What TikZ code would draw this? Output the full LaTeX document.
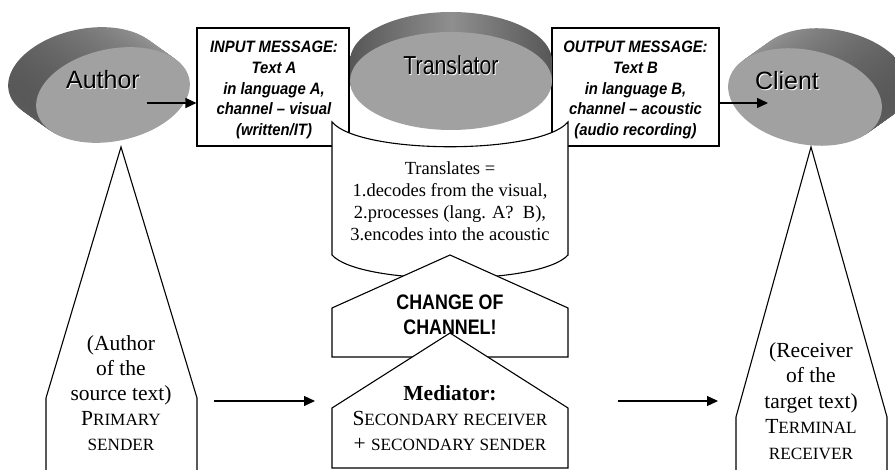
\documentclass[tikz,border=0pt]{standalone}
\usepackage{fontspec}
\setmainfont{Liberation Serif}
\setsansfont{Liberation Sans}
\newfontfamily\narrowsans[FakeStretch=0.82]{Liberation Sans}
\newfontfamily\semisans[FakeStretch=0.9]{Liberation Sans}
\newfontfamily\condsans[FakeStretch=0.85]{Liberation Sans}
\usetikzlibrary{arrows.meta}
\definecolor{sidedark}{gray}{0.34}
\definecolor{sidelight}{gray}{0.62}
\definecolor{facegray}{gray}{0.63}
\definecolor{rimgray}{gray}{0.56}
\newcommand{\mysc}[2]{{\fontsize{#1}{#1}\selectfont #2}}
\begin{document}
\begin{tikzpicture}[x=1pt,y=-1pt,
  box/.style={draw, line width=1.1pt, fill=white, inner sep=0pt},
  shp/.style={draw, line width=1.1pt, fill=white, line join=miter},
  arr/.style={-{Triangle[length=11pt,width=10pt]}, line width=1.4pt},
  boxtxt/.style={font=\semisans\bfseries\itshape\fontsize{16.5}{20.7}\selectfont, align=center, inner sep=0pt},
  disctxt/.style={font=\sffamily\fontsize{25}{25}\selectfont},
  sertxt/.style={align=center, inner sep=0pt},
  ]
\useasboundingbox (0,0) rectangle (895,470);
\clip (0,0) rectangle (895,470);

% ---------- boxes ----------
\node[box, minimum width=152pt, minimum height=118pt] (inbox) at (273,87) {};
\node[boxtxt] (intext) at (274,90)
  {INPUT MESSAGE:\\Text A\\in language A,\\channel – visual\\(written/IT)};
\node[box, minimum width=167pt, minimum height=118pt] (outbox) at (635.5,87) {};
\node[boxtxt] (outtext) at (635.5,90)
  {OUTPUT MESSAGE:\\Text B\\in language B,\\channel – acoustic\\(audio recording)};

% ---------- Author disc ----------
\foreach \t in {0,0.04,...,0.97} {
  \begin{scope}[shift={({85+28*\t},{75+20*\t})}, rotate=12]
    \shade[left color=sidedark, right color=sidelight] (0,0) ellipse [x radius=78pt, y radius=46pt];
  \end{scope}
}
\begin{scope}[shift={(113,95)}, rotate=12]
  \fill[facegray] (0,0) ellipse [x radius=78pt, y radius=46pt];
\end{scope}
\node[disctxt, text=white] (authorsh) at (103.8,81) {Author};
\node[disctxt] (author) at (103,80) {Author};

% ---------- Client disc ----------
\foreach \t in {0,0.04,...,0.97} {
  \begin{scope}[shift={({833-28*\t},{77+20*\t})}, rotate=-12]
    \shade[left color=sidelight, right color=sidedark] (0,0) ellipse [x radius=78pt, y radius=47pt];
  \end{scope}
}
\begin{scope}[shift={(805,97)}, rotate=-12]
  \fill[facegray] (0,0) ellipse [x radius=78pt, y radius=47pt];
\end{scope}
\node[disctxt, text=white] (clientsh) at (788,82) {Client};
\node[disctxt] (client) at (787,81) {Client};

% ---------- tape (Translates) ----------
\draw[shp] (332,122) .. controls (360,155) and (540,155) .. (568,122)
  -- (568,255) .. controls (540,286) and (360,286) .. (332,255) -- cycle;
\node[sertxt, font=\fontsize{18.5}{22}\selectfont] (trtext) at (450,201)
  {Translates =\\1.decodes from the visual,\\2.processes (lang. A?\enspace B),\\3.encodes into the acoustic};

% ---------- Translator disc ----------
\foreach \t in {0,0.05,...,0.96} {
  \shade[left color=sidedark, right color=sidedark, middle color=rimgray]
    (451,{61+20*\t}) ellipse [x radius=101pt, y radius=49pt];
}
\fill[facegray] (451,81) ellipse [x radius=101pt, y radius=49pt];
\node[font=\narrowsans\fontsize{26}{26}\selectfont, text=white] (translsh) at (451.8,66) {Translator};
\node[font=\narrowsans\fontsize{26}{26}\selectfont] (transl) at (451,65) {Translator};

% ---------- change of channel ----------
\draw[shp] (450,255) -- (568,308) -- (568,357) -- (332,357) -- (332,308) -- cycle;
\node[sertxt, font=\condsans\bfseries\fontsize{21}{25}\selectfont] (chg) at (450,315)
  {CHANGE OF\\CHANNEL!};

% ---------- mediator ----------
\draw[shp] (450,333) -- (568,408) -- (568,468) -- (332,468) -- (332,408) -- cycle;
\node[sertxt, font=\fontsize{21.5}{25}\selectfont] (med) at (450,418)
  {\textbf{Mediator:}\\S\mysc{17.2}{ECONDARY RECEIVER}\\+ \mysc{17.2}{SECONDARY SENDER}};

% ---------- primary sender ----------
\draw[shp] (121,147) -- (197,398) -- (197,480) -- (46,480) -- (46,398) -- cycle;
\node[sertxt, font=\fontsize{21.5}{25}\selectfont] (prim) at (121,393)
  {(Author\\of the\\source text)\\P\mysc{17.2}{RIMARY}\\\mysc{17.2}{SENDER}};

% ---------- terminal receiver ----------
\draw[shp] (811,147) -- (887,417) -- (887,480) -- (736,480) -- (736,417) -- cycle;
\node[sertxt, font=\fontsize{21.5}{25.5}\selectfont] (term) at (811,401)
  {(Receiver\\of the\\target text)\\T\mysc{17.2}{ERMINAL}\\\mysc{17.2}{RECEIVER}};

% ---------- arrows ----------
\coordinate (a1) at (147,103);
\coordinate (c1) at (768,103);
\draw[arr] (a1) -- (inbox.west |- a1);
\draw[arr] (outbox.east |- c1) -- (c1);
\coordinate (l1) at (214,401);
\coordinate (l2) at (315,401);
\coordinate (r1) at (618,401);
\coordinate (r2) at (718,401);
\draw[arr, line width=1.2pt] (l1) -- (l2);
\draw[arr, line width=1.2pt] (r1) -- (r2);
\end{tikzpicture}
\end{document}
